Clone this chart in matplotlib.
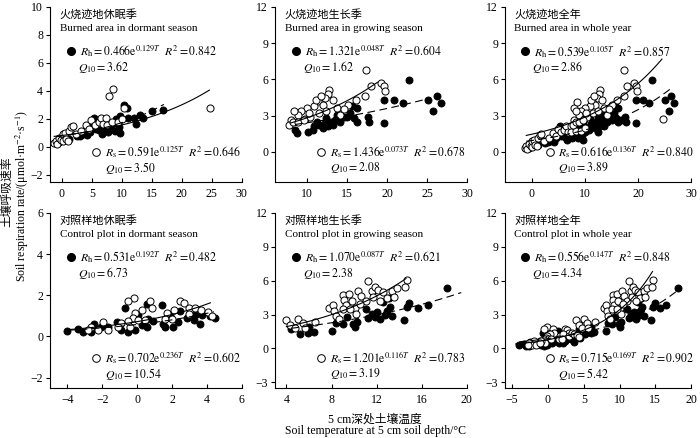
import matplotlib
matplotlib.use('Agg')
import matplotlib.pyplot as plt
import numpy as np

plt.rcParams['font.family'] = ['Liberation Serif', 'Noto Sans CJK SC']
plt.rcParams['mathtext.fontset'] = 'stix'

# ---------------- data ----------------
# burned area, dormant season
bd_rh_x = [-0.5, 0.3, 1.2, 2.5, 3.0, 3.5, 4.2, 4.6, 5.0, 5.3, 5.6, 6.2, 6.6, 7.1, 7.6, 8.1, 8.8, 9.0, 9.3, 9.5, 9.6, 9.7, 10.4, 10.9, 11.1, 12.1, 12.4, 13.0, 13.6, 15.1, 16.9]
bd_rh_y = [0.35, 0.5, 0.6, 0.75, 0.8, 0.9, 0.85, 1.1, 1.4, 2.1, 1.3, 1.2, 0.95, 1.35, 1.1, 1.5, 1.15, 2.0, 1.7, 1.4, 1.0, 2.2, 3.0, 2.75, 2.1, 2.05, 1.65, 2.3, 2.1, 2.6, 2.65]
bd_rs_x = [-1.3, -1.0, -0.8, -0.5, -0.2, 0.1, 0.1, 0.5, 0.7, 1.0, 1.2, 1.5, 1.8, 2.3, 3.2, 4.0, 4.5, 4.9, 5.5, 6.1, 6.5, 6.8, 7.4, 7.5, 7.9, 8.3, 8.5, 9.3, 10.0, 10.3, 24.7]
bd_rs_y = [0.3, 0.45, 0.2, 0.65, 0.5, 0.9, 0.4, 1.0, 0.6, 0.45, 1.15, 1.4, 1.5, 0.9, 1.15, 1.55, 1.3, 1.9, 1.6, 1.8, 2.1, 1.65, 2.1, 1.6, 3.6, 1.75, 4.15, 1.75, 2.0, 2.75, 2.75]
# burned area, growing season
bg_rh_x = [22.7, 19.6, 20.9, 22.0, 25.1, 26.2, 26.7, 25.8, 19.6, 17.8, 17.6, 16.3, 15.6, 16.3, 15.0, 14.1, 10.9, 11.5, 12.2, 12.8, 13.5, 13.9, 14.6, 10.7, 10.1, 12.0, 12.6, 13.3, 14.1, 8.5, 8.7, 11.3, 12.4, 13.7, 15.4, 15.9]
bg_rh_y = [5.9, 4.3, 4.25, 4.05, 4.25, 4.6, 4.05, 3.35, 2.4, 2.5, 2.85, 3.6, 3.8, 2.5, 2.9, 3.05, 2.1, 2.2, 2.35, 2.5, 2.65, 2.8, 2.9, 1.8, 1.65, 1.95, 2.1, 2.2, 2.45, 1.8, 1.55, 2.5, 2.8, 3.05, 3.2, 2.8]
bg_rs_x = [17.4, 19.3, 19.6, 19.8, 18.0, 17.3, 16.1, 15.1, 13.7, 12.8, 12.6, 12.3, 13.3, 11.4, 12.0, 10.9, 10.0, 9.3, 8.9, 8.4, 8.0, 7.8, 8.3, 8.9, 9.8, 10.4, 11.5, 12.4, 14.1, 14.6, 11.1, 11.7, 9.6, 10.2]
bg_rs_y = [6.79, 5.73, 5.45, 5.0, 5.45, 4.6, 4.3, 3.9, 3.6, 5.15, 4.75, 4.45, 4.3, 4.2, 3.9, 3.75, 3.6, 3.35, 3.05, 3.35, 2.65, 2.25, 2.45, 2.5, 2.7, 2.9, 3.2, 3.35, 3.05, 3.5, 4.3, 4.6, 2.65, 3.2]
# control plot, dormant season
cd_rh_x = [-4.0, -3.38, -3.13, -2.65, -2.46, -2.07, -1.68, -1.14, -0.91, -0.68, -0.53, -0.14, 0.02, 0.25, 0.54, 0.6, 0.54, 0.93, 1.4, 1.5, 1.6, 1.9, 2.08, 2.37, 2.47, 2.85, 3.34, 3.63, 3.72, 4.2, 4.44, 3.24]
cd_rh_y = [0.27, 0.37, 0.21, 0.21, 0.6, 0.44, 0.48, 0.69, 0.32, 1.37, 0.21, 0.32, 1.05, 0.57, 0.48, 0.86, 1.57, 0.73, 1.53, 0.6, 0.48, 1.02, 0.48, 0.69, 1.24, 0.89, 1.05, 0.6, 1.05, 0.97, 0.89, 0.81]
cd_rs_x = [-0.18, -0.53, 0.73, 0.83, 0.25, -0.14, -0.24, 0.05, -0.53, -0.43, -0.91, -1.97, -2.65, -2.26, -1.68, -2.84, 0.44, 1.7, 1.6, 2.43, 2.66, 2.95, 2.14, 2.95, 3.34, 3.68, 4.07, 4.3, 2.0, -1.1]
cd_rs_y = [1.86, 1.7, 1.73, 1.4, 1.29, 1.13, 0.89, 0.81, 0.73, 0.48, 0.65, 0.69, 0.48, 0.32, 0.32, 0.32, 0.81, 1.13, 0.86, 1.73, 1.6, 1.4, 1.29, 1.08, 1.37, 1.29, 1.21, 0.97, 0.86, 0.48]
# control plot, growing season
cg_rh_x = [4.4, 5.2, 5.96, 6.42, 6.02, 8.08, 8.38, 8.62, 8.98, 9.35, 9.89, 10.04, 10.25, 11.1, 11.25, 11.55, 11.85, 12.0, 12.3, 12.55, 12.76, 12.91, 13.06, 13.15, 13.37, 14.42, 14.66, 14.88, 15.69, 16.54, 18.2]
cg_rh_y = [1.69, 1.25, 1.39, 1.48, 1.9, 1.54, 2.28, 2.43, 2.2, 2.79, 2.14, 1.9, 2.37, 3.47, 2.67, 3.03, 2.79, 3.18, 2.58, 4.07, 2.97, 3.32, 4.45, 3.68, 2.88, 2.52, 3.68, 3.98, 3.56, 3.83, 5.34]
cg_rs_x = [3.94, 4.3, 5.0, 4.76, 5.45, 5.66, 6.57, 7.78, 8.14, 8.23, 8.38, 8.68, 9.05, 9.14, 9.29, 8.98, 9.59, 9.83, 10.04, 10.19, 10.34, 10.65, 11.04, 11.25, 11.55, 11.7, 11.85, 12.16, 12.55, 12.91, 13.37, 13.58, 13.82, 14.72, 14.51, 10.5, 9.6, 12.3]
cg_rs_y = [2.49, 2.08, 2.58, 1.84, 2.28, 1.84, 2.37, 3.56, 3.86, 3.32, 2.88, 2.58, 4.75, 4.27, 3.86, 3.47, 4.81, 4.21, 3.62, 3.03, 5.1, 4.66, 4.21, 5.93, 5.04, 4.51, 5.46, 5.16, 4.96, 4.45, 5.04, 4.51, 5.34, 6.05, 5.46, 3.92, 3.47, 4.21]

# panel texts
titles_cn = ['火烧迹地休眠季', '火烧迹地生长季', '火烧迹地全年',
             '对照样地休眠季', '对照样地生长季', '对照样地全年']
titles_en = ['Burned area in dormant season', 'Burned area in growing season',
             'Burned area in whole year', 'Control plot in dormant season',
             'Control plot in growing season', 'Control plot in whole year']
rh_a = ['0.466', '1.321', '0.539', '0.531', '1.070', '0.556']
rh_b = ['0.129', '0.048', '0.105', '0.192', '0.087', '0.147']
rh_r2 = ['0.842', '0.604', '0.857', '0.482', '0.621', '0.848']
rh_q10 = ['3.62', '1.62', '2.86', '6.73', '2.38', '4.34']
rs_a = ['0.591', '1.436', '0.616', '0.702', '1.201', '0.715']
rs_b = ['0.125', '0.073', '0.136', '0.236', '0.116', '0.169']
rs_r2 = ['0.646', '0.678', '0.840', '0.602', '0.783', '0.902']
rs_q10 = ['3.50', '2.08', '3.89', '10.54', '3.19', '5.42']

# fitted curves as drawn (a, b, Tmin, Tmax) for Rs (solid) and Rh (dashed)
rs_curve = [(0.82, 0.065, -1.3, 24.6), (1.25, 0.0812, 7.9, 18.8), (1.45, 0.068, -1.0, 24.5),
            (0.72, 0.195, -4.0, 4.2), (1.24, 0.110, 4.0, 14.6), (0.767, 0.1495, -4.5, 14.6)]
rh_curve = [(0.78, 0.080, -1.0, 17.0), (1.61, 0.040, 8.5, 24.8), (0.93, 0.066, -1.0, 26.1),
            (0.58, 0.165, -4.0, 4.4), (1.32, 0.0677, 4.4, 19.5), (0.87, 0.098, -4.0, 18.4)]

xlims = [(-2, 30), (6, 30), (-5, 30), (-5, 6), (3, 20), (-6, 20)]
ylims = [(-2.5, 10), (-2.5, 12), (-2.5, 12), (-2.5, 6), (-3.5, 12), (-3.5, 12)]
xticks = [range(0, 31, 5), range(10, 31, 5), range(0, 31, 10),
          range(-4, 7, 2), range(4, 21, 4), range(-5, 21, 5)]
yticks = [range(-2, 11, 2), range(0, 13, 3), range(0, 13, 3),
          range(-2, 7, 2), range(-3, 13, 3), range(-3, 13, 3)]

rh_sets = [(bd_rh_x, bd_rh_y), (bg_rh_x, bg_rh_y), (bd_rh_x + bg_rh_x, bd_rh_y + bg_rh_y),
           (cd_rh_x, cd_rh_y), (cg_rh_x, cg_rh_y), (cd_rh_x + cg_rh_x, cd_rh_y + cg_rh_y)]
rs_sets = [(bd_rs_x, bd_rs_y), (bg_rs_x, bg_rs_y), (bd_rs_x + bg_rs_x, bd_rs_y + bg_rs_y),
           (cd_rs_x, cd_rs_y), (cg_rs_x, cg_rs_y), (cd_rs_x + cg_rs_x, cd_rs_y + cg_rs_y)]

# ---------------- figure ----------------
fig = plt.figure(figsize=(7, 4.38), dpi=100)
lefts = [0.0714, 0.393, 0.7214]
widths = [0.274, 0.274, 0.266]
bottoms = [0.5845, 0.1142]
H = 0.40

ms = 26
for i in range(6):
    r, c = divmod(i, 3)
    ax = fig.add_axes([lefts[c], bottoms[r], widths[c], H])
    for s in ['top', 'right']:
        ax.spines[s].set_visible(False)
    for s in ['left', 'bottom']:
        ax.spines[s].set_linewidth(0.8)
    ax.set_xlim(*xlims[i])
    ax.set_ylim(*ylims[i])
    ax.set_xticks(list(xticks[i]))
    ax.set_yticks(list(yticks[i]))
    ax.tick_params(axis='x', direction='in', length=3, width=0.8, labelsize=8.5, pad=4)
    ax.tick_params(axis='y', direction='out', length=3, width=0.8, labelsize=8.5, pad=2)

    # points
    ax.scatter(rh_sets[i][0], rh_sets[i][1], s=ms, c='black', edgecolors='black',
               linewidths=0.6, zorder=3)
    ax.scatter(rs_sets[i][0], rs_sets[i][1], s=ms, c='white', edgecolors='black',
               linewidths=0.7, zorder=4)

    # curves
    a, b, t0, t1 = rs_curve[i]
    t = np.linspace(t0, t1, 100)
    ax.plot(t, a * np.exp(b * t), color='black', lw=0.8, zorder=5)
    a, b, t0, t1 = rh_curve[i]
    t = np.linspace(t0, t1, 100)
    ax.plot(t, a * np.exp(b * t), color='black', lw=0.8, ls=(0, (7, 4)), zorder=5)

    # texts
    ax.text(0.05, 0.955, titles_cn[i], transform=ax.transAxes, fontsize=8,
            va='center', ha='left')
    ax.text(0.05, 0.875, titles_en[i], transform=ax.transAxes, fontsize=8,
            va='center', ha='left')
    ax.plot([0.11], [0.745], 'o', ms=5.5, mfc='black', mec='black',
            transform=ax.transAxes, clip_on=False)
    ax.text(0.155, 0.745,
            r'$R_{\mathrm{h}}=%s\mathrm{e}^{%sT}\ \ R^{2}=%s$' % (rh_a[i], rh_b[i], rh_r2[i]),
            transform=ax.transAxes, fontsize=8.5, va='center', ha='left')
    ax.text(0.145, 0.655, r'$Q_{10}=%s$' % rh_q10[i], transform=ax.transAxes,
            fontsize=8.5, va='center', ha='left')
    ax.plot([0.24], [0.172], 'o', ms=5.5, mfc='white', mec='black', mew=0.7,
            transform=ax.transAxes, clip_on=False)
    ax.text(0.285, 0.172,
            r'$R_{\mathrm{s}}=%s\mathrm{e}^{%sT}\ \ R^{2}=%s$' % (rs_a[i], rs_b[i], rs_r2[i]),
            transform=ax.transAxes, fontsize=8.5, va='center', ha='left')
    ax.text(0.285, 0.082, r'$Q_{10}=%s$' % rs_q10[i], transform=ax.transAxes,
            fontsize=8.5, va='center', ha='left')

# axis labels
fig.text(0.010, 0.562, '土壤呼吸速率', rotation=90, fontsize=8.5, ha='center', va='center')
fig.text(0.032, 0.553, r'Soil respiration rate/(μmol·m$^{-2}$·s$^{-1}$)', rotation=90,
         fontsize=8.5, ha='center', va='center')
fig.text(0.536, 0.043, '5 cm深处土壤温度', fontsize=8.5, ha='center', va='center')
fig.text(0.536, 0.016, 'Soil temperature at 5 cm soil depth/°C', fontsize=8.5,
         ha='center', va='center')

fig.savefig('out.png', dpi=100)
